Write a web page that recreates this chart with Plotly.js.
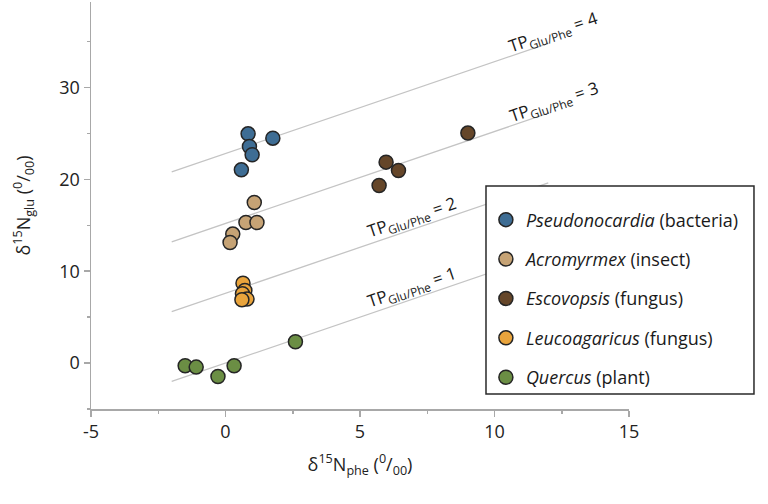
<!DOCTYPE html>
<html>
<head>
<meta charset="utf-8">
<script src="https://cdn.plot.ly/plotly-3.0.1.min.js"></script>
<style>html,body{margin:0;padding:0;background:#fff;}#chart{width:768px;height:504px;}</style>
</head>
<body>
<div id="chart"></div>
<script>
// Species data (δ15N phe, δ15N glu)
var pseudoX = [0.84, 0.89, 0.99, 0.59, 1.76];
var pseudoY = [24.95, 23.57, 22.67, 21.03, 24.48];
var acroX = [1.07, 0.76, 1.17, 0.27, 0.17];
var acroY = [17.48, 15.3, 15.3, 14.04, 13.12];
var escoX = [5.97, 6.43, 5.71, 9.01];
var escoY = [21.87, 20.96, 19.33, 25.03];
var leucoX = [0.65, 0.72, 0.63, 0.80, 0.61];
var leucoY = [8.7, 7.9, 7.54, 6.96, 6.89];
var quercusX = [-1.50, -1.09, -0.28, 0.32, 2.60];
var quercusY = [-0.29, -0.44, -1.46, -0.29, 2.32];

// Trophic position reference lines
var tpX = [-2, 12];
var tp1Y = [-2, 12];
var tp2Y = [5.6, 19.6];
var tp3Y = [13.2, 27.2];
var tp4Y = [20.8, 34.8];
var tpLabels = ['1', '2', '3', '4'];
var tpLabelX = [6.95, 6.95, 12.2, 12.2];
var tpLabelY = [8.2, 15.8, 28.4, 36.0];

// Labels
var names = ['<i>Pseudonocardia</i> (bacteria)', '<i>Acromyrmex</i> (insect)',
  '<i>Escovopsis</i> (fungus)', '<i>Leucoagaricus</i> (fungus)', '<i>Quercus</i> (plant)'];
var colors = ['#3e6d94', '#c6a375', '#654629', '#e9a43c', '#6b8e44'];
var xTicks = [-5, 0, 5, 10, 15];
var yTicks = [0, 10, 20, 30];

var FONT = 'Open Sans, Noto Sans, sans-serif';
var traces = [];
[[tp1Y],[tp2Y],[tp3Y],[tp4Y]].forEach(function (a) {
  traces.push({x: tpX, y: a[0], mode: 'lines', line: {color: '#c4c4c4', width: 1.3},
    showlegend: false, hoverinfo: 'skip'});
});
var sets = [[pseudoX, pseudoY], [acroX, acroY], [escoX, escoY], [leucoX, leucoY], [quercusX, quercusY]];
sets.forEach(function (s, i) {
  traces.push({x: s[0], y: s[1], mode: 'markers', name: names[i], legendgroup: 'g' + i,
    marker: {size: 14, color: colors[i], line: {color: '#252525', width: 1.5}}});
});

var annotations = tpLabels.map(function (t, i) {
  return {x: tpLabelX[i], y: tpLabelY[i], xref: 'x', yref: 'y', showarrow: false,
    text: 'TP<sub>Glu/Phe</sub> = ' + t, textangle: -18.5,
    font: {family: FONT, size: 17, color: '#1a1a1a'}};
});

var layout = {
  width: 768, height: 504,
  margin: {l: 91, r: 139, t: 2, b: 95},
  paper_bgcolor: '#fff', plot_bgcolor: '#fff',
  font: {family: FONT, size: 18, color: '#222'},
  showlegend: true,
  xaxis: {range: [-5, 15], tickvals: xTicks, ticktext: xTicks.map(String),
    showgrid: false, zeroline: false, showline: true, linecolor: '#a8a8a8', linewidth: 1.5,
    ticks: 'outside', ticklen: 6, tickwidth: 1.5, tickcolor: '#a8a8a8',
    minor: {dtick: 2.5, ticks: 'outside', ticklen: 3, tickwidth: 1.5, tickcolor: '#a8a8a8', showgrid: false},
    tickfont: {size: 18, color: '#222'}, automargin: false,
    title: {text: 'δ<sup>15</sup>N<sub>phe</sub> (<sup>0</sup>/<sub>00</sub>)', font: {size: 18, color: '#222'}, standoff: 16}},
  yaxis: {range: [-5, 39.3], tickvals: yTicks, ticktext: yTicks.map(String),
    showgrid: false, zeroline: false, showline: true, linecolor: '#a8a8a8', linewidth: 1.5,
    ticks: 'outside', ticklen: 6, tickwidth: 1.5, tickcolor: '#a8a8a8',
    minor: {dtick: 5, ticks: 'outside', ticklen: 3, tickwidth: 1.5, tickcolor: '#a8a8a8', showgrid: false},
    tickfont: {size: 18, color: '#222'}, automargin: false,
    title: {text: 'δ<sup>15</sup>N<sub>glu</sub> (<sup>0</sup>/<sub>00</sub>)', font: {size: 18, color: '#222'}, standoff: 24}},
  shapes: [{type: 'rect', xref: 'paper', yref: 'paper', x0: 0.7342, x1: 1.2323, y0: 0.0369, y1: 0.5479,
    fillcolor: '#ffffff', line: {color: '#2a2a2a', width: 1.5}, layer: 'above'}],
  legend: {x: 0.734, xanchor: 'left', y: 0.51, yanchor: 'top', bgcolor: 'rgba(0,0,0,0)',
    borderwidth: 0, tracegroupgap: 13, traceorder: 'grouped',
    font: {family: FONT, size: 18, color: '#1a1a1a'}},
  annotations: annotations
};

Plotly.newPlot('chart', traces, layout, {displayModeBar: false, staticPlot: true});
</script>
</body>
</html>
